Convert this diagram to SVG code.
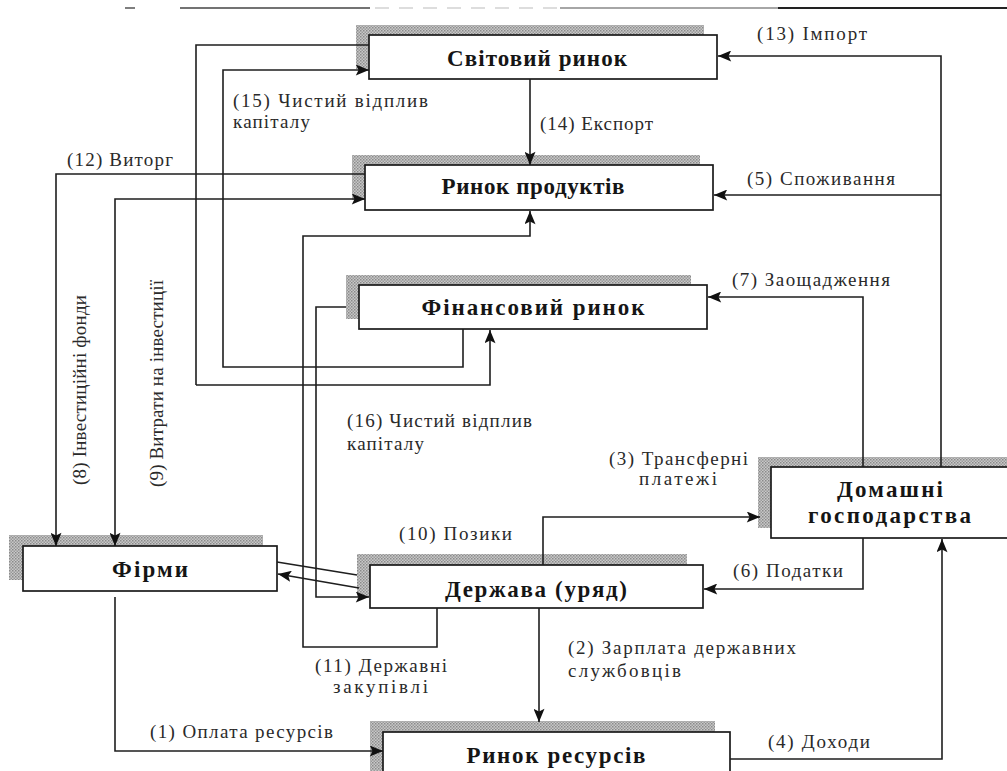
<svg xmlns="http://www.w3.org/2000/svg" width="1007" height="771" viewBox="0 0 1007 771">
<defs>
<pattern id="ht" width="3" height="3" patternUnits="userSpaceOnUse">
<rect width="3" height="3" fill="#c8c8c8"/>
<rect width="1.5" height="1.5" fill="#8a8a8a"/>
<rect x="1.5" y="1.5" width="1.5" height="1.5" fill="#9a9a9a"/>
</pattern>
<marker id="arr" viewBox="0 0 12 10" refX="12" refY="5" markerWidth="14" markerHeight="11" markerUnits="userSpaceOnUse" orient="auto-start-reverse">
<path d="M0,0 L12,5 L0,10 L2.5,5 z" fill="#111"/>
</marker>
</defs>
<style>
.sh{fill:url(#ht);stroke:none}
.bx{fill:#fff;stroke:#1a1a1a;stroke-width:1.7}
.t{font-family:"Liberation Serif","DejaVu Serif",serif;font-weight:bold;font-size:23px;fill:#151515;text-anchor:middle}
.l{font-family:"Liberation Serif","DejaVu Serif",serif;font-size:19px;fill:#2a2a2a}
.c{fill:none;stroke:#1e1e1e;stroke-width:1.6}
.a{marker-end:url(#arr)}
</style>
<rect width="1007" height="771" fill="#fff"/>
<g id="scan-edge">
<line x1="125" y1="8" x2="135" y2="8" stroke="#555" stroke-width="1.5"/>
<line x1="180" y1="8" x2="370" y2="8" stroke="#444" stroke-width="1.5"/>
<line x1="375" y1="8" x2="560" y2="8" stroke="#bbb" stroke-width="1.2" stroke-dasharray="14 10"/>
<line x1="560" y1="8" x2="778" y2="8" stroke="#888" stroke-width="1.4"/>
<line x1="778" y1="8" x2="1007" y2="8" stroke="#222" stroke-width="1.8"/>
</g>
<g id="node-world">
<rect class="sh" x="356" y="25" width="348" height="44"/>
<rect class="bx" x="369" y="35" width="348" height="44"/>
<text class="t" x="537" y="66" textLength="180">Світовий ринок</text>
</g>
<g id="node-products">
<rect class="sh" x="352" y="155" width="348" height="45"/>
<rect class="bx" x="365" y="165" width="348" height="45"/>
<text class="t" x="533" y="194" textLength="183">Ринок продуктів</text>
</g>
<g id="node-financial">
<rect class="sh" x="346" y="275" width="345" height="44"/>
<rect class="bx" x="359" y="285" width="348" height="44"/>
<text class="t" x="533" y="315" textLength="223">Фінансовий ринок</text>
</g>
<g id="node-firms">
<rect class="sh" x="9" y="535" width="254" height="45"/>
<rect class="bx" x="23" y="546" width="254" height="45"/>
<text class="t" x="150" y="577" textLength="76">Фірми</text>
</g>
<g id="node-state">
<rect class="sh" x="357" y="554" width="330" height="43"/>
<rect class="bx" x="370" y="565" width="333" height="43"/>
<text class="t" x="536" y="597" textLength="182">Держава (уряд)</text>
</g>
<g id="node-households">
<rect class="sh" x="758" y="457" width="250" height="71"/>
<rect class="bx" x="771" y="467" width="240" height="71"/>
<text class="t" x="890" y="497" textLength="106">Домашні</text>
<text class="t" x="889.5" y="523" textLength="163">господарства</text>
</g>
<g id="node-resources">
<rect class="sh" x="370" y="721" width="345" height="60"/>
<rect class="bx" x="383" y="732" width="347" height="60"/>
<text class="t" x="556" y="763" textLength="179">Ринок ресурсів</text>
</g>
<g id="connectors">
<path class="c a" d="M941,467 V56 H718"/>
<path class="c a" d="M941,195 H714"/>
<path class="c a" d="M530,79 V165"/>
<path class="c" d="M369,45 H196 V385"/>
<path class="c a" d="M196,385 H490 V330"/>
<path class="c a" d="M463,329 V367 H223 V70 H369"/>
<path class="c a" d="M365,174 H56 V546"/>
<path class="c a" d="M115,546 V199 H365" style="marker-start:url(#arr)"/>
<path class="c a" d="M437,608 V647 H303 V236 H530 V211"/>
<path class="c a" d="M346,307 H316 V597 H369"/>
<path class="c" d="M277,562 L357,575"/>
<path class="c a" d="M359,588 L278,574"/>
<path class="c a" d="M543,565 V517 H760"/>
<path class="c a" d="M863,467 V297 H708"/>
<path class="c a" d="M863,538 V589 H704"/>
<path class="c a" d="M539,608 V722"/>
<path class="c a" d="M730,759 H942 V539"/>
<path class="c a" d="M115,597 V751 H383"/>
</g>
<g id="labels">
<text class="l" x="757" y="40" textLength="110">(13) Імпорт</text>
<text class="l" x="540" y="130" textLength="113">(14) Експорт</text>
<text class="l" x="233" y="107" textLength="195">(15) Чистий відплив</text>
<text class="l" x="233" y="128" textLength="77">капіталу</text>
<text class="l" x="67" y="166" textLength="106">(12) Виторг</text>
<text class="l" x="747" y="185" textLength="148">(5) Споживання</text>
<text class="l" x="732" y="286" textLength="158">(7) Заощадження</text>
<text class="l" x="347" y="427" textLength="185">(16) Чистий відплив</text>
<text class="l" x="347" y="450" textLength="77">капіталу</text>
<text class="l" x="399" y="540" textLength="113">(10) Позики</text>
<text class="l" x="609" y="465" textLength="139">(3) Трансферні</text>
<text class="l" x="639" y="485" textLength="78">платежі</text>
<text class="l" x="733" y="577" textLength="110">(6) Податки</text>
<text class="l" x="568" y="654" textLength="228">(2) Зарплата державних</text>
<text class="l" x="568" y="677" textLength="113">службовців</text>
<text class="l" x="315" y="672" textLength="132">(11) Державні</text>
<text class="l" x="333" y="693" textLength="95">закупівлі</text>
<text class="l" x="150" y="738" textLength="183">(1) Оплата ресурсів</text>
<text class="l" x="768" y="748" textLength="102">(4) Доходи</text>
<text class="l" transform="translate(86,390) rotate(-90)" x="-95" y="0" textLength="190">(8) Інвестиційні фонди</text>
<text class="l" transform="translate(163,384) rotate(-90)" x="-103" y="0" textLength="207">(9) Витрати на інвестиції</text>
</g>
</svg>
